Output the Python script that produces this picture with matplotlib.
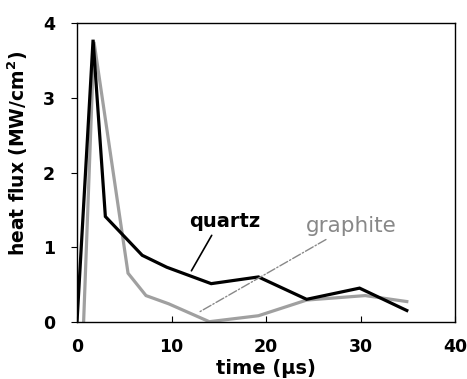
import matplotlib
matplotlib.use("Agg")
import matplotlib.pyplot as plt

quartz_t = [0.0, 1.7, 3.0, 6.9, 9.5, 14.2, 19.2, 24.3, 29.9, 34.9]
quartz_q = [0.0, 3.78, 1.41, 0.89, 0.73, 0.51, 0.60, 0.30, 0.45, 0.15]
graphite_t = [0.7, 1.8, 5.4, 7.3, 9.7, 14.0, 19.2, 24.3, 30.5, 34.9]
graphite_q = [0.0, 3.75, 0.65, 0.35, 0.24, 0.0, 0.08, 0.29, 0.35, 0.27]
x_ticks = [0, 10, 20, 30, 40]
y_ticks = [0, 1, 2, 3, 4]

plt.rcParams['font.family'] = ['DejaVu Sans']

fig = plt.figure(figsize=(4.67, 3.79), dpi=100)
ax = fig.add_axes([0.1649, 0.1512, 0.8094, 0.7873])

ax.plot(graphite_t, graphite_q, color='#a0a0a0', lw=2.3, solid_joinstyle='miter')
ax.plot(quartz_t, quartz_q, color='black', lw=2.3, solid_joinstyle='miter')

ax.set_xlim(0, 40)
ax.set_ylim(0, 4)
ax.set_xticks(x_ticks)
ax.set_yticks(y_ticks)
ax.tick_params(axis='x', direction='in', length=4, pad=12, labelsize=12.5)
ax.tick_params(axis='y', direction='out', length=4, pad=12, labelsize=12.5)
for lab in ax.get_xticklabels() + ax.get_yticklabels():
    lab.set_fontweight('bold')
for s in ax.spines.values():
    s.set_linewidth(1.0)

ax.set_xlabel('time (µs)', fontsize=14, fontweight='bold', labelpad=2)
ax.set_ylabel('heat flux (MW/cm$^\\mathbf{2}$)', fontsize=13.5, fontweight='bold')
ax.yaxis.set_label_coords(-0.125, 0.565)

# annotations
ax.annotate('', xy=(11.96, 0.65), xytext=(14.4, 1.19),
            arrowprops=dict(arrowstyle='-', color='black', lw=1.2))
ax.text(15.6, 1.34, 'quartz', fontsize=14, fontweight='bold', ha='center', va='center', color='black')
ax.annotate('', xy=(12.67, 0.11), xytext=(26.6, 1.12),
            arrowprops=dict(arrowstyle='-', color='#888888', lw=1.0, linestyle='-.'))
ax.text(29.05, 1.28, 'graphite', fontsize=15.5, fontweight='normal', ha='center', va='center', color='#888888')

fig.savefig('out.png', dpi=100)
